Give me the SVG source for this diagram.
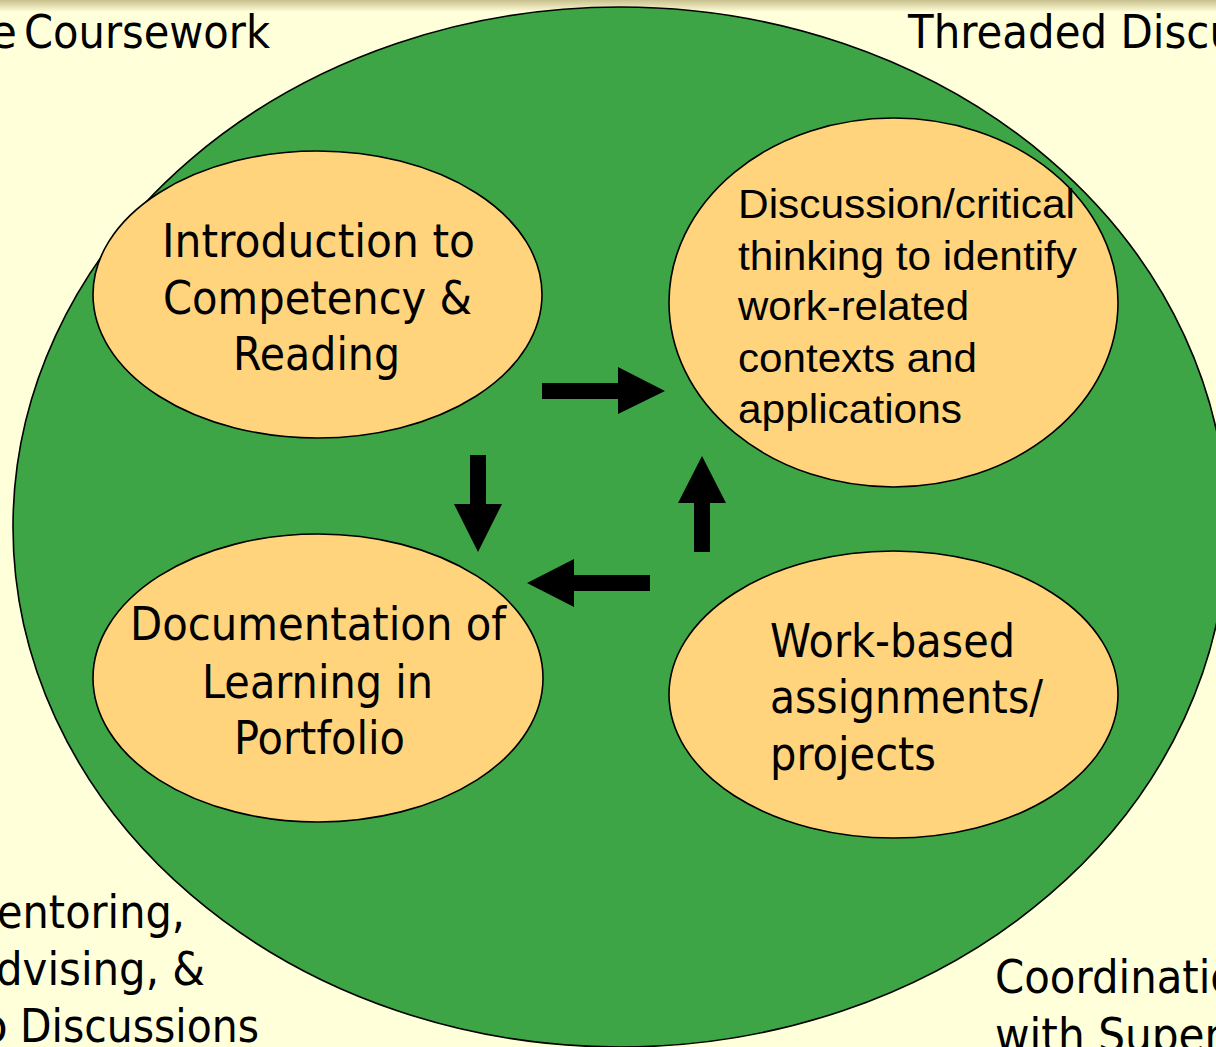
<svg xmlns="http://www.w3.org/2000/svg" width="1216" height="1047" viewBox="0 0 1216 1047">
<defs>
<linearGradient id="band" x1="0" y1="0" x2="0" y2="1">
<stop offset="0" stop-color="#c9c08e"/>
<stop offset="1" stop-color="#ffffd9"/>
</linearGradient>
<style>
.t{font-family:"DejaVu Sans","Liberation Sans",sans-serif;font-size:47px;fill:#000}
.a{font-family:"Liberation Sans",Arial,sans-serif;font-size:40px;fill:#000}
.node{fill:#ffd47c;stroke:#000;stroke-width:1.6}
.arrow{fill:#000;stroke:none}
</style>
</defs>
<rect x="0" y="0" width="1216" height="1047" fill="#ffffd9"/>
<rect x="0" y="0" width="1216" height="12" fill="url(#band)"/>
<g id="labels">
<text class="t" y="48"><tspan x="-11" textLength="28" lengthAdjust="spacingAndGlyphs">e</tspan> <tspan x="24" textLength="246" lengthAdjust="spacingAndGlyphs">Coursework</tspan></text>
<text class="t" x="908" y="48" textLength="328" lengthAdjust="spacingAndGlyphs">Threaded Discu</text>
<text class="t" x="-3" y="928" textLength="188" lengthAdjust="spacingAndGlyphs">entoring,</text>
<text class="t" x="-4" y="985" textLength="209" lengthAdjust="spacingAndGlyphs">dvising, &amp;</text>
<text class="t" y="1042"><tspan x="-22">p</tspan> <tspan x="20" textLength="239" lengthAdjust="spacingAndGlyphs">Discussions</tspan></text>
<text class="t" x="995" y="993" textLength="241" lengthAdjust="spacingAndGlyphs">Coordinatio</text>
<text class="t" x="995" y="1051" textLength="227" lengthAdjust="spacingAndGlyphs">with Super</text>
</g>
<g id="outer">
<ellipse cx="620" cy="527" rx="607" ry="520" fill="#3da545" stroke="#000" stroke-width="1.6"/>
</g>
<g id="node-intro">
<ellipse class="node" cx="317.5" cy="294.5" rx="224.5" ry="143.5"/>
<text class="t" x="162" y="257" textLength="313" lengthAdjust="spacingAndGlyphs">Introduction to</text>
<text class="t" x="163" y="314" textLength="309" lengthAdjust="spacingAndGlyphs">Competency &amp;</text>
<text class="t" x="233" y="370" textLength="167" lengthAdjust="spacingAndGlyphs">Reading</text>
</g>
<g id="node-discussion">
<ellipse class="node" cx="893.5" cy="302.5" rx="224.5" ry="184.5"/>
<text class="a" x="738" y="218" textLength="337" lengthAdjust="spacingAndGlyphs">Discussion/critical</text>
<text class="a" x="738" y="270" textLength="339" lengthAdjust="spacingAndGlyphs">thinking to identify</text>
<text class="a" x="738" y="320" textLength="231" lengthAdjust="spacingAndGlyphs">work-related</text>
<text class="a" x="738" y="372" textLength="239" lengthAdjust="spacingAndGlyphs">contexts and</text>
<text class="a" x="738" y="423" textLength="224" lengthAdjust="spacingAndGlyphs">applications</text>
</g>
<g id="node-documentation">
<ellipse class="node" cx="318" cy="678" rx="225" ry="144"/>
<text class="t" x="130" y="640" textLength="376" lengthAdjust="spacingAndGlyphs">Documentation of</text>
<text class="t" x="202" y="698" textLength="231" lengthAdjust="spacingAndGlyphs">Learning in</text>
<text class="t" x="234" y="754" textLength="171" lengthAdjust="spacingAndGlyphs">Portfolio</text>
</g>
<g id="node-work">
<ellipse class="node" cx="893.5" cy="694.5" rx="224.5" ry="143.5"/>
<text class="t" x="770" y="657" textLength="245" lengthAdjust="spacingAndGlyphs">Work-based</text>
<text class="t" x="770" y="713" textLength="273" lengthAdjust="spacingAndGlyphs">assignments/</text>
<text class="t" x="770" y="770" textLength="166" lengthAdjust="spacingAndGlyphs">projects</text>
</g>
<g id="connectors">
<polygon class="arrow" points="542,383 618,383 618,367 665,391 618,414 618,399 542,399"/>
<polygon class="arrow" points="470,455 486,455 486,504 502,504 478,552 454,504 470,504"/>
<polygon class="arrow" points="694,552 710,552 710,503 726,503 702,456 678,503 694,503"/>
<polygon class="arrow" points="650,575 574,575 574,559 527,583 574,607 574,591 650,591"/>
</g>
</svg>
